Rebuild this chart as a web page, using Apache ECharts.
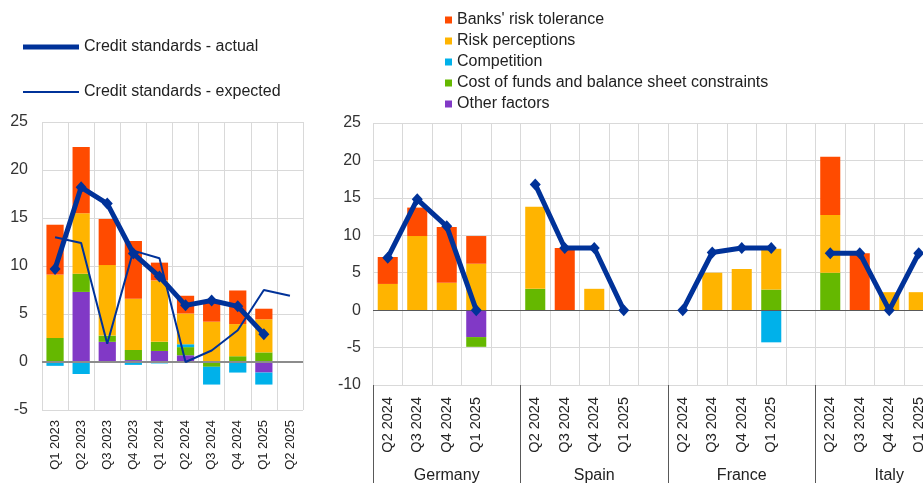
<!DOCTYPE html>
<html>
<head>
<meta charset="utf-8">
<script src="https://cdn.jsdelivr.net/npm/echarts@6/dist/echarts.min.js"></script>
<style>
html, body { margin: 0; padding: 0; background: #fff; overflow: hidden; }
#main { width: 970px; height: 483px; }
</style>
</head>
<body>
<div id="main"></div>
<script>
// euro area panel
var quarters = ['Q1 2023','Q2 2023','Q3 2023','Q4 2023','Q1 2024','Q2 2024','Q3 2024','Q4 2024','Q1 2025','Q2 2025'];
var eaTolerance   = [5.2, 6.9, 4.8, 6.0, 1.85, 1.85, 2.25, 3.5, 1.1, null];
var eaPerceptions = [6.6, 6.3, 7.35, 5.35, 6.4, 3.2, 4.2, 3.35, 3.45, null];
var eaCompetition = [-0.4, -1.25, 0, -0.3, -0.15, 0.3, -1.85, -1.1, -1.25, null];
var eaCost        = [2.5, 1.9, 0.65, 1.05, 0.95, 0.85, -0.5, 0.6, 1.0, null];
var eaOther       = [0, 7.3, 2.1, 0.2, 1.15, 0.7, 0, 0, -1.1, null];
var eaActual      = [9.7, 18.2, 16.5, 11.3, 8.9, 5.9, 6.4, 5.8, 2.9, null];
var eaExpected    = [13.0, 12.4, 1.9, 11.6, 10.8, 0, 1.2, 3.3, 7.5, 6.9];

// country panel (Germany, Spain, France, Italy)
var countries = ['Germany','Spain','France','Italy'];
var countryQuarters = ['Q2 2024','Q3 2024','Q4 2024','Q1 2025'];
var ctyTolerance   = [[3.6, 3.8, 7.45, 3.7], [0, 8.3, 0, 0], [0, 0, 0, 0], [7.8, 7.6, 0, 0]];
var ctyPerceptions = [[3.5, 9.9, 3.65, 6.2], [10.95, 0, 2.85, 0], [0, 5.0, 5.5, 5.45], [7.7, 0, 2.4, 2.4]];
var ctyCompetition = [[0, 0, 0, 0], [0, 0, 0, 0], [0, 0, 0, -4.3], [0, 0, 0, 0]];
var ctyCost        = [[0, 0, 0, -1.3], [2.85, 0, 0, 0], [0, 0, 0, 2.75], [5.0, 0, 0, 0]];
var ctyOther       = [[0, 0, 0, -3.6], [0, 0, 0, 0], [0, 0, 0, 0], [0, 0, 0, 0]];
var ctyActual      = [[7.0, 14.8, 11.2, 0], [16.8, 8.3, 8.3, 0], [0, 7.7, 8.3, 8.3], [7.6, 7.6, 0, 7.6]];

var FONT = 'Liberation Sans, Arial, sans-serif';
var BLUE = '#003299';

// one empty slot after each country
function spread(rows) {
	var out = [];
	rows.forEach(function (r) { out = out.concat(r); out.push(null); });
	return out;
}
var ctyLabels = [];
countries.forEach(function () { ctyLabels = ctyLabels.concat(countryQuarters); ctyLabels.push(''); });

var factors = [
	{ name: 'Other factors', color: '#8139C6', ea: eaOther, cty: ctyOther },
	{ name: 'Cost of funds and balance sheet constraints', color: '#65B800', ea: eaCost, cty: ctyCost },
	{ name: 'Competition', color: '#00B1EA', ea: eaCompetition, cty: ctyCompetition },
	{ name: 'Risk perceptions', color: '#FFB400', ea: eaPerceptions, cty: ctyPerceptions },
	{ name: "Banks' risk tolerance", color: '#FF4B00', ea: eaTolerance, cty: ctyTolerance }
];

var series = [];
factors.forEach(function (f, i) {
	var left = {
		name: f.name, type: 'bar', stack: 'ea', xAxisIndex: 0, yAxisIndex: 0,
		barWidth: '66%', itemStyle: { color: f.color }, data: f.ea
	};
	var right = {
		name: f.name, type: 'bar', stack: 'cty', xAxisIndex: 1, yAxisIndex: 1,
		barWidth: '68%', itemStyle: { color: f.color }, data: spread(f.cty)
	};
	if (i == 0) {
		left.markLine = { silent: true, symbol: 'none', label: { show: false },
			lineStyle: { color: '#8c8c8c', width: 2, type: 'solid' }, data: [{ yAxis: 0 }] };
		right.markLine = { silent: true, symbol: 'none', label: { show: false },
			lineStyle: { color: '#595959', width: 1, type: 'solid' }, data: [{ yAxis: 0 }] };
	}
	series.push(left, right);
});

series.push({
	name: 'Credit standards - expected', type: 'line', xAxisIndex: 0, yAxisIndex: 0,
	symbol: 'none', lineStyle: { color: BLUE, width: 2 }, itemStyle: { color: BLUE },
	z: 5, data: eaExpected
});
series.push({
	name: 'Credit standards - actual', type: 'line', xAxisIndex: 0, yAxisIndex: 0,
	symbol: 'diamond', symbolSize: [11, 12], lineStyle: { color: BLUE, width: 5 },
	itemStyle: { color: BLUE }, z: 6, data: eaActual
});
series.push({
	name: 'Credit standards - actual', type: 'line', xAxisIndex: 1, yAxisIndex: 1,
	symbol: 'diamond', symbolSize: [11, 12], lineStyle: { color: BLUE, width: 5 },
	itemStyle: { color: BLUE }, z: 6, connectNulls: false, data: spread(ctyActual)
});

var gridLine = { show: true, lineStyle: { color: '#d9d9d9', width: 1 } };
var legendText = { fontSize: 16, color: '#222', fontFamily: FONT };

var option = {
	animation: false,
	textStyle: { fontFamily: FONT },
	legend: [
		{
			left: 18, top: 34, itemWidth: 56, itemHeight: 5, icon: 'rect',
			itemStyle: { color: BLUE }, textStyle: legendText,
			data: ['Credit standards - actual']
		},
		{
			left: 18, top: 79, itemWidth: 56, itemHeight: 2, icon: 'rect',
			itemStyle: { color: BLUE }, textStyle: legendText,
			data: ['Credit standards - expected']
		},
		{
			orient: 'vertical', left: 440, top: 7, itemGap: 5,
			itemWidth: 7, itemHeight: 7, icon: 'rect',
			textStyle: { fontSize: 16, lineHeight: 16, color: '#222', fontFamily: FONT },
			data: ["Banks' risk tolerance", 'Risk perceptions', 'Competition',
				'Cost of funds and balance sheet constraints', 'Other factors']
		}
	],
	grid: [
		{ left: 42, top: 122, width: 261, bottom: 73, outerBoundsMode: 'none' },
		{ left: 373, top: 123, width: 590, bottom: 98, outerBoundsMode: 'none' }
	],
	xAxis: [
		{
			type: 'category', gridIndex: 0, data: quarters,
			axisLine: { show: false }, axisTick: { show: false },
			splitLine: gridLine,
			axisLabel: { rotate: 90, margin: 10, fontSize: 13, color: '#222', interval: 0 }
		},
		{
			type: 'category', gridIndex: 1, data: ctyLabels,
			axisLine: { show: false }, axisTick: { show: false },
			splitLine: { show: true, interval: 0, lineStyle: { color: '#d9d9d9', width: 1 } },
			axisLabel: { rotate: 90, margin: 12, fontSize: 14.5, color: '#222', interval: 0 }
		},
		{
			type: 'category', gridIndex: 1, data: countries, position: 'bottom', offset: 0,
			axisLine: { show: false }, splitLine: { show: false },
			axisTick: { show: true, length: 98, interval: 0, lineStyle: { color: '#595959', width: 1 } },
			axisLabel: { margin: 83, fontSize: 16, color: '#222', interval: 0 }
		}
	],
	yAxis: [
		{
			type: 'value', gridIndex: 0, min: -5, max: 25, interval: 5,
			axisLine: { show: false }, axisTick: { show: false },
			splitLine: gridLine,
			axisLabel: { margin: 14, fontSize: 16, color: '#333' }
		},
		{
			type: 'value', gridIndex: 1, min: -10, max: 25, interval: 5,
			axisLine: { show: false }, axisTick: { show: false },
			splitLine: gridLine,
			axisLabel: { margin: 12, fontSize: 16, color: '#333' }
		}
	],
	series: series
};

var myChart = echarts.init(document.getElementById('main'));
myChart.setOption(option, true);
</script>
</body>
</html>
